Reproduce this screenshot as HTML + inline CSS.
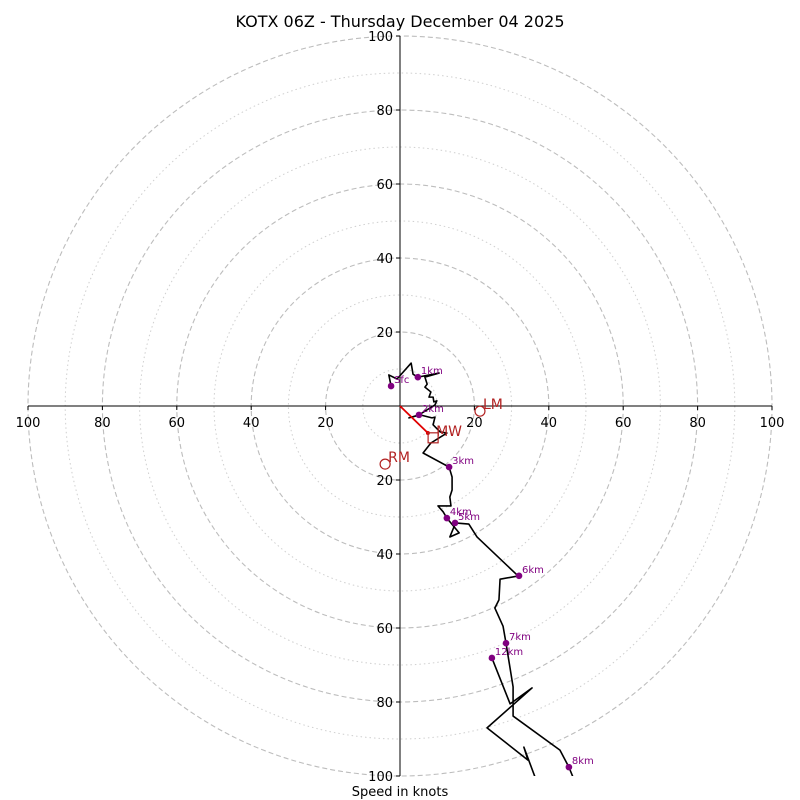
<!DOCTYPE html>
<html><head><meta charset="utf-8"><style>
body{margin:0;background:#fff}
svg{display:block;font-family:"DejaVu Sans","Liberation Sans",sans-serif}
</style></head><body>
<svg id="c" width="800" height="800" viewBox="0 0 800 800">
<text x="400" y="27" text-anchor="middle" font-size="16">KOTX 06Z - Thursday December 04 2025</text>
<g id="grid"></g><g id="axes"></g>
<defs><clipPath id="clip"><rect x="28" y="36" width="744" height="740"/></clipPath></defs>
<g id="plot" clip-path="url(#clip)"></g>
<text x="400" y="796" text-anchor="middle" font-size="13">Speed in knots</text>
</svg>
<script>
const uKts=[-2.4,-3.0,-0.8,3.0,3.5,4.8,10.5,6.7,7.3,6.7,8.3,7.8,8.9,9.1,9.9,9.4,5.1,2.4,5.4,8.6,9.4,8.9,10.8,12.6,8.3,6.2,13.2,14.0,14.0,13.4,13.7,10.2,11.6,12.6,15.9,13.4,14.5,14.8,18.5,20.7,31.5,32.0,26.9,26.6,25.5,27.7,28.5,30.4,30.4,43.0,45.4,46.5,48.4,39.0,36.3,33.3,34.4,23.4,35.5,29.6,24.7];
const vKts=[5.4,8.4,7.3,11.6,8.6,7.8,8.9,7.8,5.9,5.1,3.8,2.4,2.4,1.1,1.4,0.3,-2.4,-3.2,-2.4,-3.2,-3.0,-5.1,-7.0,-7.3,-10.0,-12.7,-16.5,-19.2,-22.7,-24.6,-27.0,-27.0,-28.6,-30.3,-34.3,-35.4,-32.7,-31.6,-31.9,-35.4,-45.7,-45.9,-46.8,-52.4,-54.6,-59.5,-64.1,-75.9,-83.8,-93.0,-97.6,-100.3,-106.5,-109.2,-100.3,-92.2,-95.7,-87.0,-76.2,-80.5,-68.1];
const markerLabels=["Sfc","1km","2km","3km","4km","5km","6km","7km","8km","12km"];
const markerU=[-2.4,4.8,5.1,13.2,12.6,14.8,32.0,28.5,45.4,24.7];
const markerV=[5.4,7.8,-2.4,-16.5,-30.3,-31.6,-45.9,-64.1,-97.6,-68.1];
const ringVals=[10,20,30,40,50,60,70,80,90,100];
const tickVals=[-100,-80,-60,-40,-20,20,40,60,80,100];
const stormLabels=["LM","RM"];
const stormU=[21.5,-4.0];
const stormV=[-1.4,-15.7];
const mwU=[8.9], mwV=[-8.6];
const shearU=[0,7.5], shearV=[0,-7.3];

const CX=400,CY=406,SX=3.72,SY=3.7;
const X=u=>CX+u*SX, Y=v=>CY-v*SY;
const NS="http://www.w3.org/2000/svg";
function mk(p,t,a){const e=document.createElementNS(NS,t);for(const k in a)e.setAttribute(k,a[k]);p.appendChild(e);return e;}
const grid=document.getElementById('grid'),axes=document.getElementById('axes'),plot=document.getElementById('plot');
ringVals.forEach(r=>{
  const e=mk(grid,'ellipse',{cx:CX,cy:CY,rx:r*SX,ry:r*SY,fill:'none',stroke:r%20?'#cfcfcf':'#bdbdbd','stroke-width':r%20?1:1.1,'stroke-dasharray':r%20?'1.5,3':'5,3'});
  
  
});
let l=mk(axes,'line',{x1:28,y1:CY,x2:772,y2:CY,stroke:'#000'});


l=mk(axes,'line',{x1:CX,y1:36,x2:CX,y2:776,stroke:'#000'});


tickVals.forEach(t=>{
  mk(axes,'line',{x1:X(t),y1:CY,x2:X(t),y2:CY+4,stroke:'#000'});
  let tx=mk(axes,'text',{x:X(t),y:CY+21,'text-anchor':'middle','font-size':13});
  tx.textContent=Math.abs(t);
  
  
  mk(axes,'line',{x1:CX-4,y1:Y(t),x2:CX,y2:Y(t),stroke:'#000'});
  tx=mk(axes,'text',{x:CX-7,y:Y(t)+5,'text-anchor':'end','font-size':13});
  tx.textContent=Math.abs(t);
  
  
});
const pl=mk(plot,'polyline',{points:uKts.map((u,i)=>X(u)+','+Y(vKts[i])).join(' '),fill:'none',stroke:'#000','stroke-width':1.6,'stroke-linejoin':'round'});


markerLabels.forEach((s,i)=>{
  const c=mk(plot,'circle',{cx:X(markerU[i]),cy:Y(markerV[i]),r:3.3,fill:'#800080'});
  
  
  const t=mk(plot,'text',{x:X(markerU[i])+3,y:Y(markerV[i])-3,'font-size':10,fill:'#800080'});
  t.textContent=s;
  
  
});
const sh=mk(plot,'line',{x1:X(shearU[0]),y1:Y(shearV[0]),x2:X(shearU[1]),y2:Y(shearV[1]),stroke:'#e00000','stroke-width':1.8});


mk(plot,'circle',{cx:X(shearU[1]),cy:Y(shearV[1]),r:2,fill:'#e00000'});
stormLabels.forEach((s,i)=>{
  const c=mk(plot,'circle',{cx:X(stormU[i]),cy:Y(stormV[i]),r:5,fill:'none',stroke:'#b22222','stroke-width':1.2});
  
  
  const t=mk(plot,'text',{x:X(stormU[i])+3,y:Y(stormV[i])-2,'font-size':14,fill:'#b22222'});
  t.textContent=s;
  
  
});
const sq=mk(plot,'rect',{x:X(mwU[0])-5,y:Y(mwV[0])-5,width:10,height:10,fill:'none',stroke:'#b22222','stroke-width':1.2});


const mt=mk(plot,'text',{x:X(mwU[0])+3,y:Y(mwV[0])-2,'font-size':14,fill:'#b22222'});
mt.textContent='MW';


</script>
</body></html>
